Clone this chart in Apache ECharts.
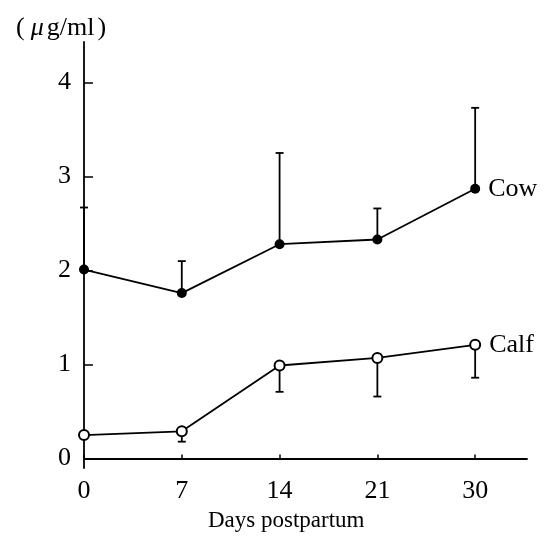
<!DOCTYPE html>
<html>
<head>
<meta charset="utf-8">
<script src="https://cdn.jsdelivr.net/npm/echarts@6/dist/echarts.min.js"></script>
<style>html,body{margin:0;padding:0;background:#fff;}#c{width:547px;height:539px;}</style>
</head>
<body>
<div id="c"></div>
<script>
// Data
var dayLabels = ['0', '7', '14', '21', '30'];
var yTicks = [0, 1, 2, 3, 4];
var cowMean = [2.01, 1.76, 2.28, 2.33, 2.87];
var cowSD = [0.66, 0.34, 0.97, 0.33, 0.86];
var calfMean = [0.25, 0.29, 0.99, 1.07, 1.21];
var calfSD = [0, 0.11, 0.28, 0.41, 0.35];
var seriesNames = ['Cow', 'Calf'];
var xTitle = 'Days postpartum';

var FONT = '"Liberation Serif", "DejaVu Serif", serif';
var xIdx = dayLabels.map(function (d, i) { return i; });

function lineData(mean, name) {
  return mean.map(function (v, i) {
    var item = { value: [i, v] };
    if (i === mean.length - 1) {
      item.label = { show: true, position: 'right', distance: 8, formatter: name,
        fontFamily: FONT, fontSize: 26, color: '#000' };
    }
    return item;
  });
}
function errData(mean, sd, dir) {
  return mean.map(function (v, i) { return [i, v, v + dir * sd[i]]; });
}
function errRender(params, api) {
  var x = api.value(0), m = api.value(1), e = api.value(2);
  if (m === e) return null;
  var p0 = api.coord([x, m]);
  var p1 = api.coord([x, e]);
  var st = { stroke: '#000', lineWidth: 1.8 };
  return {
    type: 'group',
    children: [
      { type: 'line', shape: { x1: p0[0], y1: p0[1], x2: p1[0], y2: p1[1] }, style: st },
      { type: 'line', shape: { x1: p1[0] - 4, y1: p1[1], x2: p1[0] + 4, y2: p1[1] }, style: st }
    ]
  };
}

var chart = echarts.init(document.getElementById('c'), null, { renderer: 'canvas' });
chart.setOption({
  animation: false,
  backgroundColor: '#fff',
  title: {
    text: '{p|(}{i|μ}{t|g/ml}{p|)}',
    left: 8, top: 10,
    textStyle: {
      fontFamily: FONT, fontSize: 26, fontWeight: 'normal', color: '#000',
      rich: {
        p: { fontFamily: FONT, fontSize: 26, color: '#000', padding: [0, 3, 0, 3] },
        i: { fontFamily: FONT, fontSize: 26, fontStyle: 'italic', color: '#000', padding: [0, 3, 0, 3] },
        t: { fontFamily: FONT, fontSize: 26, color: '#000' }
      }
    }
  },
  graphic: [{
    type: 'text', left: 208, top: 509,
    style: { text: xTitle, font: '23px ' + FONT, fill: '#000' }
  }],
  grid: { left: 84, right: 20, top: 42, bottom: 71, containLabel: false, outerBoundsMode: 'none' },
  xAxis: {
    type: 'value', min: 0, max: 4.53,
    axisLine: { lineStyle: { color: '#000', width: 1.8 } },
    axisTick: { show: true, inside: true, length: 4, customValues: xIdx, lineStyle: { color: '#000', width: 1.5 } },
    axisLabel: { customValues: xIdx, margin: 10, fontFamily: FONT, fontSize: 26, color: '#000',
      formatter: function (v) { return dayLabels[Math.round(v)]; } },
    splitLine: { show: false }
  },
  yAxis: {
    type: 'value', min: -0.1, max: 4.43,
    axisLine: { show: true, lineStyle: { color: '#000', width: 1.8 } },
    axisTick: { show: true, inside: true, length: 9, customValues: yTicks, lineStyle: { color: '#000', width: 1.5 } },
    axisLabel: { customValues: yTicks, margin: 13, fontFamily: FONT, fontSize: 26, color: '#000' },
    splitLine: { show: false }
  },
  series: [
    { type: 'custom', renderItem: errRender, data: errData(cowMean, cowSD, 1), z: 1, silent: true },
    { type: 'custom', renderItem: errRender, data: errData(calfMean, calfSD, -1), z: 1, silent: true },
    {
      name: seriesNames[0], type: 'line', data: lineData(cowMean, seriesNames[0]), z: 3,
      symbol: 'circle', symbolSize: 10,
      lineStyle: { color: '#000', width: 1.8 },
      itemStyle: { color: '#000', borderWidth: 0 }
    },
    {
      name: seriesNames[1], type: 'line', data: lineData(calfMean, seriesNames[1]), z: 3,
      symbol: 'circle', symbolSize: 10,
      lineStyle: { color: '#000', width: 1.8 },
      itemStyle: { color: '#fff', borderColor: '#000', borderWidth: 2 }
    }
  ]
});
</script>
</body>
</html>
